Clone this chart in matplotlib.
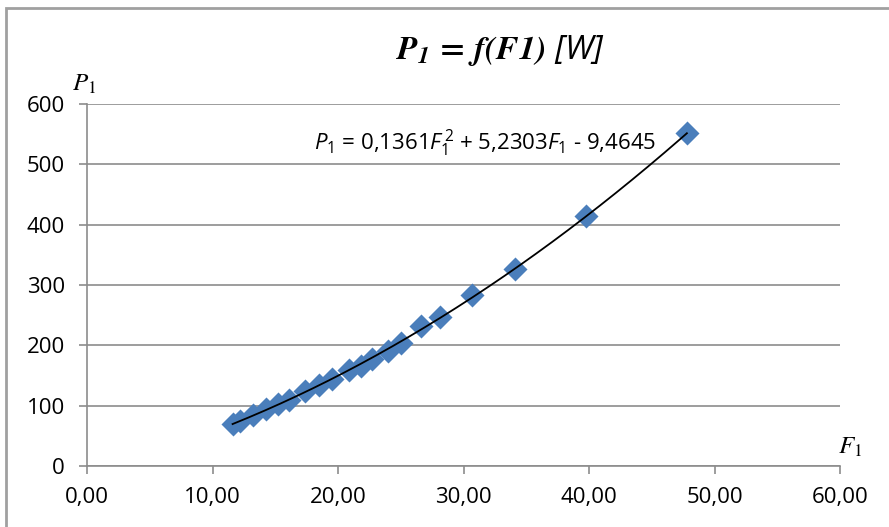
import matplotlib.pyplot as plt
import numpy as np
from matplotlib.patches import Rectangle

# Data: F1 (x) and P1 (y)
f1 = [11.6, 12.2, 13.2, 14.3, 15.2, 16.1, 17.4, 18.5, 19.5, 20.9, 21.8, 22.7,
      24.0, 25.0, 26.6, 28.1, 30.7, 34.1, 39.8, 47.8]
p1 = [70, 74, 84, 95, 103, 110, 125, 134, 145, 159, 166, 178,
      191, 204, 232, 247, 284, 327, 415, 552]
# trendline coefficients shown on the chart (a*x^2 + b*x + c)
coefs = [0.1361, 5.2303, -9.4645]
x_ticks = [0, 10, 20, 30, 40, 50, 60]
y_ticks = [0, 100, 200, 300, 400, 500, 600]

plt.rcParams['mathtext.fontset'] = 'custom'
plt.rcParams['mathtext.it'] = 'Open Sans:italic'
plt.rcParams['mathtext.rm'] = 'Open Sans'

W, H = 889, 527
fig = plt.figure(figsize=(W / 100, H / 100), dpi=100)
ax = fig.add_axes([87 / W, (H - 466) / H, (840 - 87) / W, (466 - 104) / H])

# chart border
fig.patches.append(Rectangle((6 / W, -0.1), 1.2, (H - 8) / H + 0.1,
                             transform=fig.transFigure, fill=False,
                             edgecolor='#a0a0a0', linewidth=2))

ax.scatter(f1, p1, marker='D', s=150, color='#4a7ebb', zorder=3, linewidths=0)
xs = np.linspace(min(f1), max(f1), 200)
ax.plot(xs, np.polyval(coefs, xs), color='black', linewidth=1.3, zorder=4)

ax.set_xlim(0, 60)
ax.set_ylim(0, 600)
ax.set_xticks(x_ticks)
ax.set_xticklabels([f"{v:.2f}".replace('.', ',') for v in x_ticks])
ax.set_yticks(y_ticks)
ax.grid(axis='y', color='#8c8c8c', linewidth=1.2)
ax.set_axisbelow(True)
for s in ['top', 'right']:
    ax.spines[s].set_visible(False)
for s in ['left', 'bottom']:
    ax.spines[s].set_color('#8c8c8c')
    ax.spines[s].set_linewidth(1.2)
ax.tick_params(length=6, width=1.2, color='#8c8c8c', labelsize=16)
ax.tick_params(axis='y', pad=10)
ax.tick_params(axis='x', pad=9)
for lab in ax.get_xticklabels() + ax.get_yticklabels():
    lab.set_family('Open Sans')

# title
fig.text(501 / W, 1 - 50 / H,
         r'$\mathbfit{P}_{\mathbfit{1}}\,\mathbf{=}\,\mathbfit{f(F1)}$ [W]',
         math_fontfamily='stix', family='Open Sans', fontstyle='italic',
         fontsize=24, ha='center', va='center')

# axis labels
fig.text(72 / W, 1 - 84 / H, r'$\mathit{P}_{\mathit{1}}$', math_fontfamily='stix',
         fontsize=18, ha='left', va='center')
fig.text(838 / W, 1 - 447 / H, r'$\mathit{F}_{\mathit{1}}$', math_fontfamily='stix',
         fontsize=18, ha='left', va='center')

# trendline equation
fig.text(485 / W, 1 - 143 / H,
         r'$P_1$ = 0,1361$F_1^{\,2}$ + 5,2303$F_1$ - 9,4645',
         family='Open Sans', fontsize=16, ha='center', va='center')

plt.savefig('out.png', dpi=100)
